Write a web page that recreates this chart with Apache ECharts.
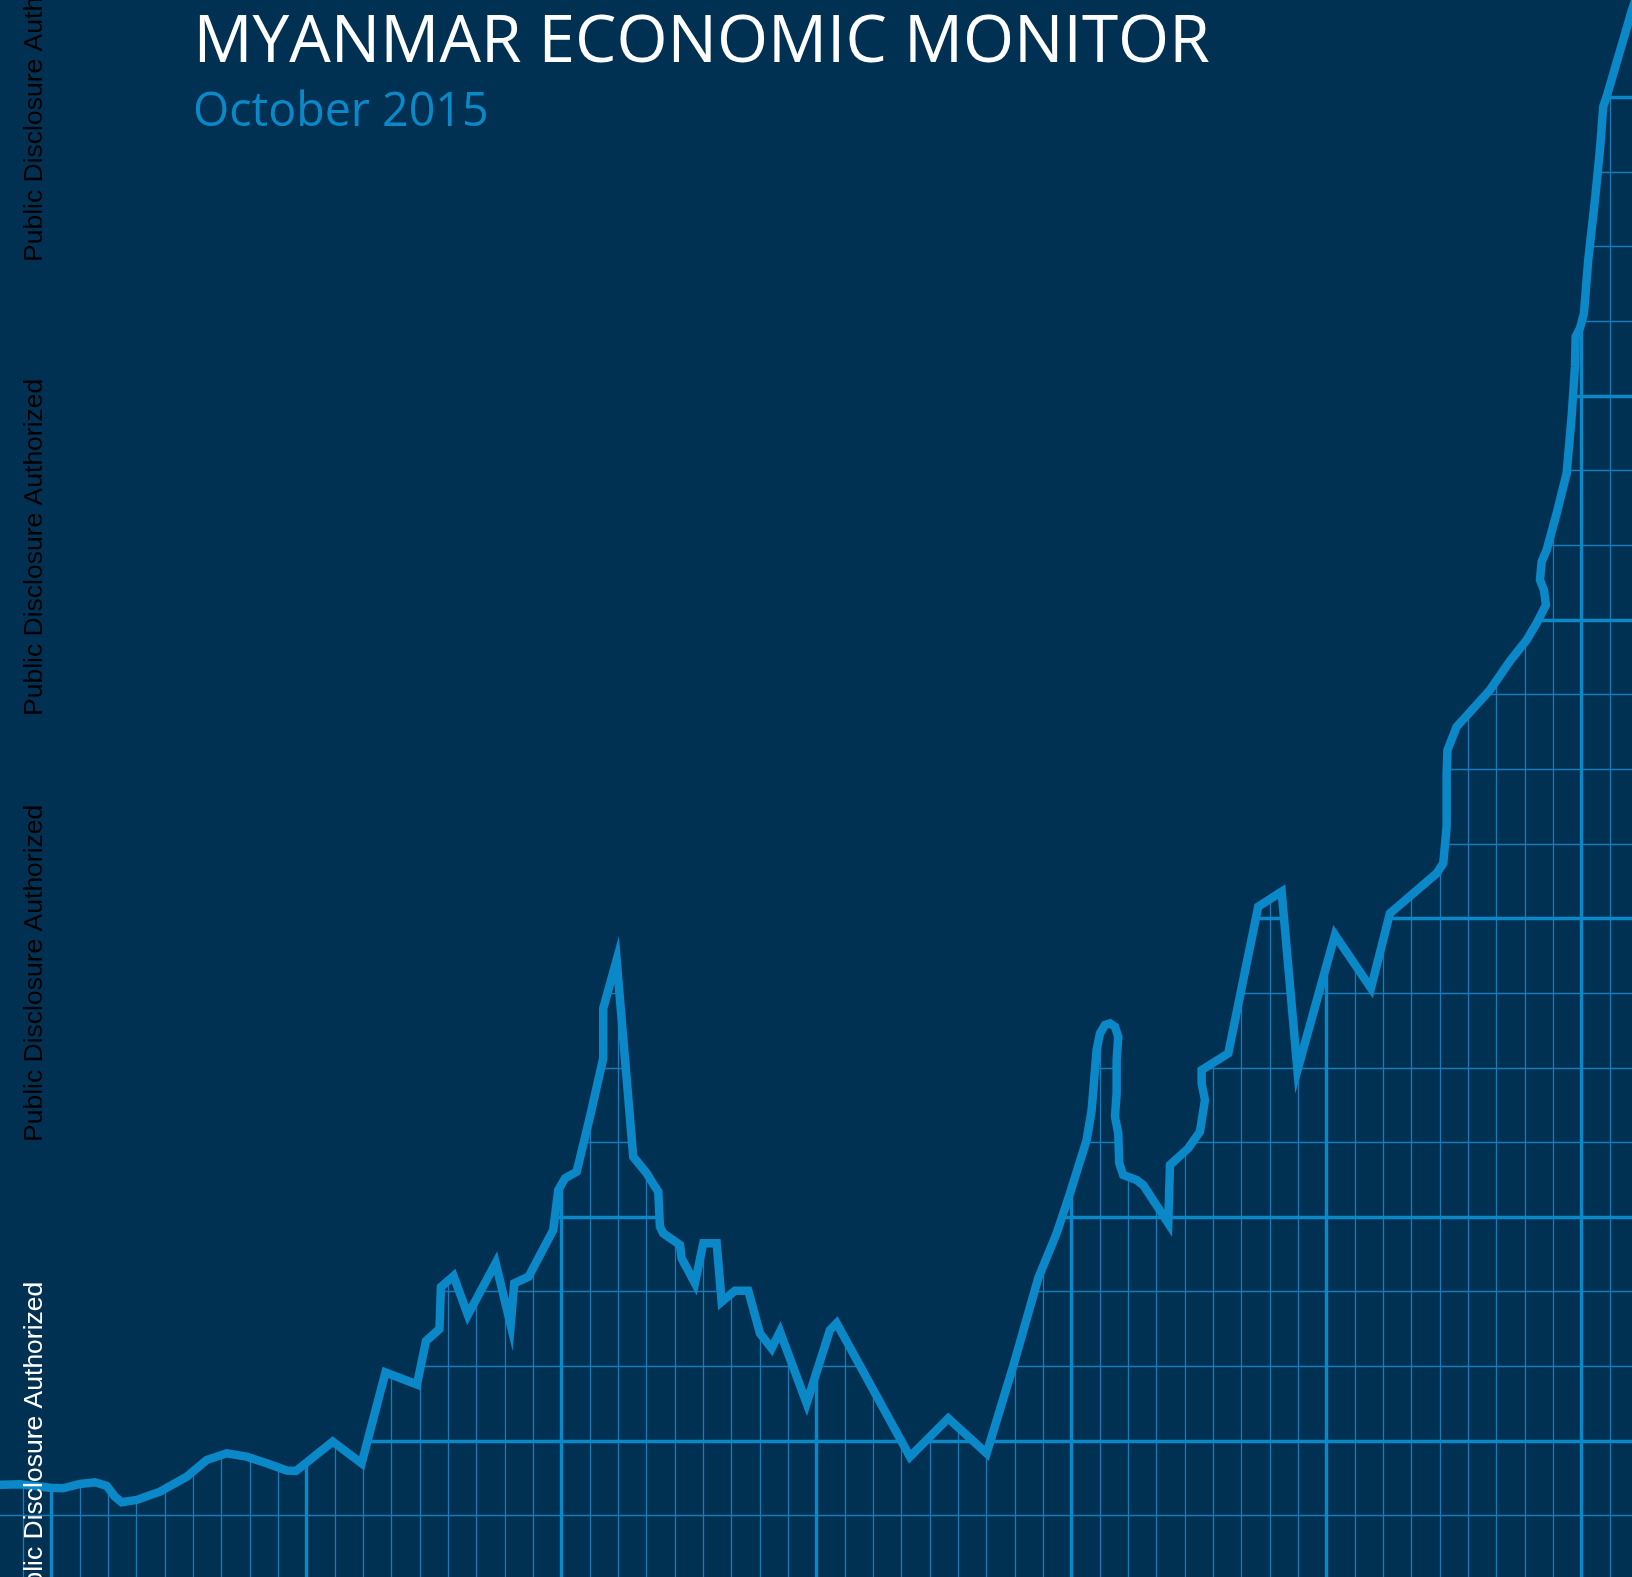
<!DOCTYPE html>
<html>
<head>
<meta charset="utf-8">
<script src="https://cdn.jsdelivr.net/npm/echarts@6/dist/echarts.min.js"></script>
<style>
html,body{margin:0;padding:0;background:#003052;overflow:hidden;width:1632px;height:1577px;position:relative;}
#c{position:absolute;left:-5px;top:-52px;width:1644px;height:1643px;}
</style>
</head>
<body>
<div id="c"></div>
<script>
// ---- data (x in minor grid cells, y in minor grid rows) ----
const lineX = [-2.0,-1.119,-0.060,0.399,0.999,1.528,1.941,2.234,2.471,3.0,
  3.822,4.765,5.471,6.176,6.882,7.588,8.294,8.622,9.918,10.941,
  11.781,12.893,13.211,13.687,13.740,14.185,14.689,15.671,16.200,16.327,
  16.832,17.704,17.880,18.117,18.530,18.999,19.468,19.468,19.941,20.527,
  21.000,21.293,21.410,21.469,21.586,22.176,22.235,22.705,22.998,23.471,
  23.647,24.117,24.586,24.999,25.412,25.705,26.647,27.470,27.706,30.293,
  31.645,33.000,33.939,34.821,35.471,35.941,36.530,36.706,36.882,37.000,
  37.176,37.353,37.529,37.645,37.588,37.588,37.529,37.645,37.680,37.821,
  38.294,38.527,39.410,39.470,40.116,40.529,40.705,40.588,40.588,41.528,
  42.586,43.412,43.970,45.294,46.564,47.234,48.883,49.116,49.236,49.236,
  49.264,49.589,50.764,51.470,52.059,52.412,52.740,52.670,52.529,52.589,
  52.765,53.118,53.471,53.647,53.764,53.789,53.941,54.082,54.233,54.470,
  54.646,54.763,54.882,55.776,56.235];
const lineY = [-0.589,-0.580,-0.626,-0.634,-0.576,-0.553,-0.603,-0.746,-0.821,-0.790,
  -0.679,-0.478,-0.255,-0.165,-0.210,-0.299,-0.395,-0.402,-0.009,-0.299,
  0.918,0.757,1.340,1.500,2.063,2.210,1.688,2.384,1.554,2.113,
  2.201,2.827,3.362,3.519,3.608,4.344,5.127,5.796,6.443,3.808,
  3.586,3.407,3.340,2.871,2.782,2.626,2.447,2.113,2.648,2.648,
  1.866,2.013,2.013,1.443,1.242,1.464,0.505,1.487,1.577,-0.210,
  0.304,-0.165,1.005,2.180,2.782,3.318,4.032,4.434,5.238,5.461,
  5.573,5.595,5.550,5.416,5.104,4.658,4.344,4.122,3.720,3.563,
  3.496,3.429,2.916,3.697,3.921,4.143,4.568,4.792,4.970,5.194,
  7.157,7.358,4.970,6.778,6.068,7.069,7.605,7.739,8.229,8.944,
  9.256,9.569,10.060,10.449,10.730,10.954,11.199,11.400,11.534,11.779,
  11.936,12.427,12.963,13.721,14.391,14.793,14.906,15.106,15.820,16.624,
  17.294,17.874,18.008,19.169,19.678];
const majorX = [0, 9, 18, 27, 36, 45, 54];
const majorY = [0, 3, 7, 11, 14, 18];
const titleText = 'MYANMAR ECONOMIC MONITOR';
const subtitleText = 'October 2015';
const disclosureText = 'Public Disclosure Authorized';
const disclosureStarts = [262, 716, 1142, 1619];
const disclosureColors = ['#000000', '#000000', '#000000', '#ffffff'];

// ---- styles / layout ----
const BG = '#003052';
const BLUE = '#0a88c8';
const MINOR = '#1a7bb8';
const OX = 5, OY = 52; // chart div offset inside the page

const pts = lineX.map((x, i) => [x, lineY[i]]);

const chart = echarts.init(document.getElementById('c'), null, {renderer: 'canvas'});

const graphics = [
  {type: 'text', x: 193.5 + OX, y: 43 + OY, z: 100,
   style: {text: titleText, fill: '#ffffff', font: '65.7px "Open Sans"', verticalAlign: 'middle', align: 'left'}},
  {type: 'text', x: 193 + OX, y: 112.5 + OY, z: 100,
   style: {text: subtitleText, fill: BLUE, font: '46.6px "Open Sans"', verticalAlign: 'middle', align: 'left'}}
];
disclosureStarts.forEach((y0, i) => {
  graphics.push({type: 'text', x: 35 + OX, y: y0 + OY, rotation: Math.PI / 2, z: 100,
    style: {text: disclosureText, fill: disclosureColors[i], font: '26.5px "Liberation Sans"', verticalAlign: 'middle', align: 'left'}});
});

chart.setOption({
  backgroundColor: BG,
  animation: false,
  grid: {left: 0, right: 0.7, top: 0, bottom: 0.7, containLabel: false},
  xAxis: {
    type: 'value', min: -2, max: 56, interval: 1,
    axisLine: {show: false}, axisTick: {show: false}, axisLabel: {show: false},
    splitLine: {show: true, lineStyle: {color: MINOR, width: 1.3}}
  },
  yAxis: {
    type: 'value', min: -2, max: 20, interval: 1,
    axisLine: {show: false}, axisTick: {show: false}, axisLabel: {show: false},
    splitLine: {show: true, lineStyle: {color: MINOR, width: 1.3}}
  },
  series: [
    {
      type: 'line', z: 1, data: pts, showSymbol: false, silent: true,
      lineStyle: {width: 0, opacity: 0},
      markLine: {
        silent: true, symbol: ['none', 'none'], label: {show: false},
        lineStyle: {color: BLUE, width: 3.4, type: 'solid'},
        data: majorX.map(v => ({xAxis: v})).concat(majorY.map(v => ({yAxis: v})))
      }
    },
    {
      type: 'line', z: 5, data: pts, showSymbol: false, silent: true,
      lineStyle: {width: 0, opacity: 0},
      areaStyle: {color: BG, opacity: 1, origin: 'end'}
    },
    {
      type: 'line', z: 6, data: pts, showSymbol: false, silent: true,
      lineStyle: {color: BLUE, width: 8.5, join: 'miter', miterLimit: 8, cap: 'butt'}
    }
  ],
  graphic: graphics
});
</script>
</body>
</html>
